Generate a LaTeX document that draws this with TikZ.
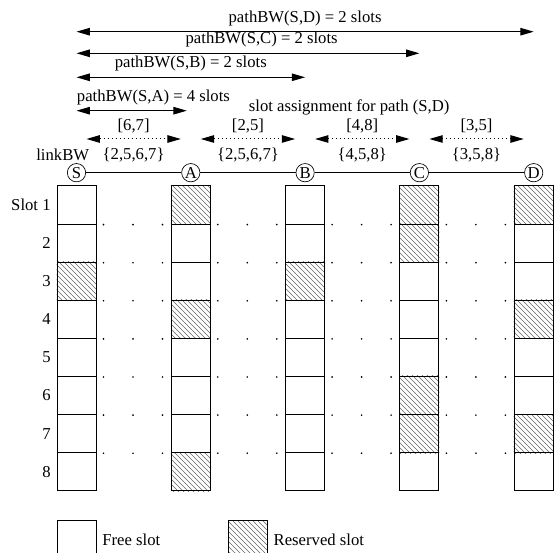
\documentclass[tikz,border=0pt]{standalone}
\usepackage{fontspec}
\setmainfont{Liberation Serif}
\usetikzlibrary{arrows.meta, positioning, patterns, backgrounds}

\begin{document}
\begin{tikzpicture}[x=0.6pt, y=-0.6pt, node distance=68.58pt,
        main/.style = {draw, circle, inner sep=0pt, minimum size=11pt},
        slot/.style = {draw, rectangle, inner sep=0pt, minimum width=23.4pt, minimum height=22.86pt, line width=0.6pt},
        reserved/.style = {pattern=north west lines, pattern color=black!60},
        bw/.style = {{Triangle[length=8pt,width=4.5pt]}-{Triangle[length=8pt,width=4.5pt]}, line width=0.6pt},
        asg/.style = {bw, dash pattern=on 0.6pt off 1.8pt, shorten <=6pt, shorten >=6pt},
        link/.style = {below, yshift=-1.5pt}]
            \useasboundingbox (0,0) rectangle (556,553);

            \node[main] (S) at (76.5,172.7) {S};
            \node[main] (A) [right of=S] {A};
            \node[main] (B) [right of=A] {B};
            \node[main] (C) [right of=B] {C};
            \node[main] (D) [right of=C] {D};
            \draw[line width=0.6pt] (S) -- (A) -- (B) -- (C) -- (D);

            % slot columns
            \foreach \n in {S,A,B,C,D}
                \foreach \k in {1,...,8}
                    \node[slot, anchor=north] (\n\k) at ([yshift={-7.68pt-(\k-1)*22.86pt}]\n.center) {};
            \begin{scope}[on background layer]
                \foreach \c in {S3,A1,A4,A8,B3,C1,C2,C6,C7,D1,D4,D7}
                    \path[reserved] (\c.south west) rectangle (\c.north east);
            \end{scope}

            \node[left] (l1) at (S1.west) {Slot 1};
            \foreach \k in {2,...,8}
                \node[left] (l\k) at (S\k.west) {\k};

            \foreach \n in {S,A,B,C}
                \foreach \k in {1,...,7}
                    \foreach \d in {4.2,21.9,39.6}
                        \fill ([xshift=\d pt]\n\k.south east) circle[radius=0.55pt];

            % path bandwidth
            \coordinate (sd) at (0,31.7);
            \coordinate (sc) at (0,53.3);
            \coordinate (sb) at (0,77.3);
            \coordinate (sa) at (0,110.7);
            \path[bw] (S|-sd) edge node[above] (tSD) {pathBW(S,D) = 2 slots} (D|-sd);
            \path[bw] (S|-sc) edge node[above, pos=0.54] (tSC) {pathBW(S,C) = 2 slots} (C|-sc);
            \path[bw] (S|-sb) edge node[above] (tSB) {pathBW(S,B) = 2 slots} (B|-sb);
            \path[bw, shorten >=2.4pt] (S|-sa) edge node[above right, pos=0, inner xsep=0pt] (tSA) {pathBW(S,A) = 4 slots} (A|-sa);

            \node[anchor=west] (asgt) at (243,107) {slot assignment for path (S,D)};

            \coordinate (da) at (0,139);
            \path[asg] (S|-da) edge node[above] (pSA) {[6,7]} node[link] (bSA) {\{2,5,6,7\}} (A|-da);
            \path[asg] (A|-da) edge node[above] (pAB) {[2,5]} node[link] (bAB) {\{2,5,6,7\}} (B|-da);
            \path[asg] (B|-da) edge node[above] (pBC) {[4,8]} node[link] (bBC) {\{4,5,8\}} (C|-da);
            \path[asg] (C|-da) edge node[above] (pCD) {[3,5]} node[link] (bCD) {\{3,5,8\}} (D|-da);
            \node[left=1pt of bSA] (lbw) {linkBW};

            % legend
            \node[slot, below=17.4pt of S8] (free) {};
            \node[right=0pt of free] (tfree) {Free slot};
            \node[slot, reserved, right=78.8pt of free] (res) {};
            \node[right=0pt of res] (tres) {Reserved slot};
        \end{tikzpicture}
\end{document}
